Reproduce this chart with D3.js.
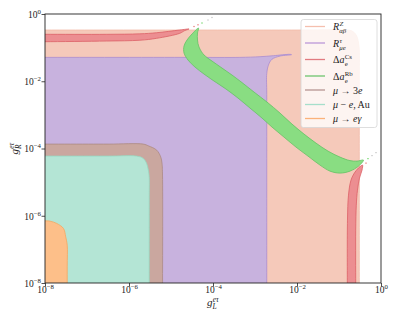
<!DOCTYPE html>
<html>
<head>
<meta charset="utf-8">
<script src="https://cdn.jsdelivr.net/npm/d3@7"></script>
<style>
  body { margin: 0; background: #fff; }
  svg text { font-family: "Liberation Serif", "DejaVu Serif", serif; fill: #222; }
</style>
</head>
<body>
<script>
"use strict"

// Axis ticks (powers of ten)
const xTicks = [1e-8, 1e-6, 1e-4, 1e-2, 1]
const yTicks = [1e-8, 1e-6, 1e-4, 1e-2, 1]

// Region outlines, as [log10 gL, log10 gR]
// (points outside -8..0 are only there so the shapes run off the frame)
const rzEdge = [[-9, -9], [-9, -0.476], [-8.5, -0.476], [-2, -0.476], [-0.81, -0.476], [-0.69, -0.506],
  [-0.607, -0.595], [-0.56, -0.714], [-0.531, -0.893], [-0.517, -1.071], [-0.517, -2], [-0.517, -8.5], [-0.517, -9]]
const rmueEdge = [[-9, -9], [-9, -1.29], [-8.5, -1.29], [-4.5, -1.29], [-3.36, -1.29], [-2.88, -1.27], [-2.56, -1.24],
  [-2.17, -1.2], [-2.13, -1.21], [-2.4, -1.25], [-2.6, -1.35], [-2.68, -1.52], [-2.72, -1.77], [-2.72, -2.4],
  [-2.72, -8.5], [-2.72, -9]]
const mu3eEdge = [[-9, -9], [-9, -3.869], [-8.5, -3.869], [-6.5, -3.869], [-5.66, -3.869], [-5.54, -3.92],
  [-5.34, -4.05], [-5.245, -4.25], [-5.214, -4.44], [-5.202, -4.79], [-5.202, -8.5], [-5.202, -9]]
const muAuEdge = [[-9, -9], [-9, -4.226], [-8.5, -4.226], [-6.5, -4.226], [-5.82, -4.226], [-5.66, -4.295],
  [-5.58, -4.443], [-5.54, -4.643], [-5.52, -4.84], [-5.519, -5.5], [-5.519, -8.5], [-5.519, -9]]
const muegEdge = [[-9, -9], [-9, -6.152], [-8.5, -6.152], [-8, -6.152], [-7.88, -6.161], [-7.72, -6.229],
  [-7.56, -6.378], [-7.507, -6.628], [-7.471, -6.875], [-7.471, -7.5], [-7.471, -8.5], [-7.471, -9]]
const csUpperEdge = [[-8.6, -0.604], [-8.3, -0.604], [-8, -0.604], [-6.53, -0.604], [-5.74, -0.59], [-5.34, -0.557],
  [-4.79, -0.476], [-4.57, -0.446], [-4.67, -0.491], [-4.79, -0.574], [-5.34, -0.723], [-5.74, -0.78],
  [-6.53, -0.804], [-8, -0.824], [-8.3, -0.824], [-8.6, -0.824]]
const csRightEdge = [[-0.802, -8.6], [-0.802, -8.3], [-0.802, -8], [-0.798, -6.131], [-0.774, -5.387], [-0.714, -4.94],
  [-0.619, -4.702], [-0.5, -4.539], [-0.44, -4.494], [-0.452, -4.643], [-0.512, -4.881], [-0.56, -5.238],
  [-0.588, -5.685], [-0.602, -6.429], [-0.602, -8], [-0.602, -8.3], [-0.602, -8.6]]
const rbEdge = [[-4.345, -0.417], [-4.369, -0.565], [-4.369, -0.774], [-4.333, -0.982], [-4.214, -1.22],
  [-4.024, -1.399], [-3.786, -1.607], [-3.548, -1.815], [-3.31, -2.039], [-3.024, -2.321], [-2.714, -2.619],
  [-2.405, -2.946], [-2.119, -3.274], [-1.833, -3.571], [-1.548, -3.839], [-1.262, -4.077], [-0.976, -4.256],
  [-0.738, -4.36], [-0.571, -4.375], [-0.417, -4.345],
  [-0.548, -4.539], [-0.738, -4.673], [-0.976, -4.732], [-1.214, -4.673], [-1.452, -4.494], [-1.738, -4.226],
  [-2.024, -3.958], [-2.31, -3.661], [-2.595, -3.363], [-2.833, -3.095], [-3.119, -2.798], [-3.405, -2.5],
  [-3.69, -2.232], [-3.976, -1.994], [-4.214, -1.786], [-4.429, -1.577], [-4.595, -1.369], [-4.69, -1.161],
  [-4.69, -0.952], [-4.619, -0.774], [-4.5, -0.595]]
// stray contour specks beyond the band tips
const specks = [[-4.452, -0.372, 'cs'], [-4.357, -0.321, 'cs'], [-4.262, -0.268, 'rb'], [-4.119, -0.179, 'grey'],
  [-4.024, -0.104, 'grey'], [-0.31, -4.301, 'rb'], [-0.357, -4.435, 'cs'], [-0.214, -4.211, 'grey'], [-0.119, -4.122, 'grey']]

// Legend entries, top to bottom
const legendKeys = ['rz', 'rmue', 'cs', 'rb', 'mu3e', 'muAu', 'mueg']

const fillColor = { rz: '#f5c9ba', rmue: '#c8b2de', cs: '#ec8e91', rb: '#89dd82', mu3e: '#caa79f',
  muAu: '#b4e5d5', mueg: '#fdbf89', grey: '#cfcfcf' }
const edgeColor = { rz: '#f2bba8', rmue: '#a98bd0', cs: '#dc5f66', rb: '#64c164', mu3e: '#ac8a84',
  muAu: '#97d9c2', mueg: '#f6a65e' }
const keyColor = { rz: '#f5bfae', rmue: '#bb98d9', cs: '#e17b80', rb: '#6fc56f', mu3e: '#b69591',
  muAu: '#a6dfcb', mueg: '#fbb27a' }

const W = 399, H = 319
const margin = { left: 45, right: 18, top: 14, bottom: 36 }

const svg = d3.select('body').append('svg')
  .attr('width', W).attr('height', H)

const x = d3.scaleLog().domain([1e-8, 1]).range([margin.left, W - margin.right])
const y = d3.scaleLog().domain([1e-8, 1]).range([H - margin.bottom, margin.top])

svg.append('clipPath').attr('id', 'plot-clip')
  .append('rect')
    .attr('x', x(1e-8)).attr('y', y(1))
    .attr('width', x(1) - x(1e-8)).attr('height', y(1e-8) - y(1))

const outline = d3.line()
  .x(d => x(Math.pow(10, d[0])))
  .y(d => y(Math.pow(10, d[1])))
  .curve(d3.curveCatmullRomClosed.alpha(0.5))

const plot = svg.append('g').attr('clip-path', 'url(#plot-clip)')

// drawn back to front
const regions = [
  ['rz', rzEdge], ['rmue', rmueEdge], ['mu3e', mu3eEdge], ['muAu', muAuEdge], ['mueg', muegEdge],
  ['cs', csUpperEdge], ['cs', csRightEdge], ['rb', rbEdge]
]
plot.selectAll('path.region')
  .data(regions)
  .enter()
  .append('path')
    .attr('class', 'region')
    .attr('d', d => outline(d[1]))
    .attr('fill', d => fillColor[d[0]])
    .attr('stroke', d => edgeColor[d[0]])
    .attr('stroke-width', 0.8)

plot.selectAll('rect.speck')
  .data(specks)
  .enter()
  .append('rect')
    .attr('class', 'speck')
    .attr('x', d => x(Math.pow(10, d[0])) - 0.8)
    .attr('y', d => y(Math.pow(10, d[1])) - 0.6)
    .attr('width', 1.6).attr('height', 1.2)
    .attr('fill', d => fillColor[d[2]])

/****** AXES ******/
function supLabel(sel, v) {
  const e = Math.round(Math.log10(v))
  sel.append('tspan').text('10')
  sel.append('tspan').attr('font-size', 6.8).attr('dy', -4).text(e === 0 ? '0' : '\u2212' + (-e))
}

const xAxis = svg.append('g')
  .attr('transform', `translate(0,${y(1e-8)})`)
  .call(d3.axisBottom(x).tickValues(xTicks).tickSize(3.5).tickFormat(''))
const yAxis = svg.append('g')
  .attr('transform', `translate(${x(1e-8)},0)`)
  .call(d3.axisLeft(y).tickValues(yTicks).tickSize(3.5).tickFormat(''))
svg.selectAll('.domain').remove()
svg.selectAll('.tick line').attr('stroke', '#222').attr('stroke-width', 0.8)

xAxis.selectAll('.tick').append('text')
  .attr('y', 10).attr('text-anchor', 'middle').attr('font-size', 9.5)
  .attr('fill', '#222')
  .each(function (v) { supLabel(d3.select(this), v) })
yAxis.selectAll('.tick').append('text')
  .attr('x', -4).attr('y', 3.3).attr('text-anchor', 'end').attr('font-size', 9.5)
  .attr('fill', '#222')
  .each(function (v) { supLabel(d3.select(this), v) })

// frame
svg.append('rect')
  .attr('x', x(1e-8)).attr('y', y(1))
  .attr('width', x(1) - x(1e-8)).attr('height', y(1e-8) - y(1))
  .attr('fill', 'none').attr('stroke', '#222').attr('stroke-width', 0.9)

// base with stacked super-/subscript; base = [[text, italic], ...]
function mathLabel(parent, base, sup, sub, size) {
  const g = parent.append('g')
  const t = g.append('text').attr('font-size', size)
  base.forEach(([s, it]) => t.append('tspan').attr('font-style', it ? 'italic' : 'normal').text(s))
  const w = t.node().getComputedTextLength()
  if (sup) g.append('text').attr('x', w + 0.4).attr('y', -size * 0.4).attr('font-size', size * 0.68)
    .attr('font-style', sup[1] ? 'italic' : 'normal').text(sup[0])
  if (sub) g.append('text').attr('x', w + 0.2).attr('y', size * 0.3).attr('font-size', size * 0.68)
    .attr('font-style', sub[1] ? 'italic' : 'normal').text(sub[0])
  return g
}

const xLab = mathLabel(svg, [['g', true]], ['e\u03c4', true], ['L', true], 11)
const xb = xLab.node().getBBox()
xLab.attr('transform', `translate(${(x(1e-8) + x(1)) / 2 - xb.width / 2},306)`)

const yHolder = svg.append('g')
const yLab = mathLabel(yHolder, [['g', true]], ['e\u03c4', true], ['R', true], 11)
const yb = yLab.node().getBBox()
yLab.attr('transform', `translate(${-yb.width / 2},0)`)
yHolder.attr('transform', `translate(18,${(y(1e-8) + y(1)) / 2}) rotate(-90)`)

/****** LEGEND ******/
const legendText = {
  rz: [[['R', true]], ['Z', true], ['\u03b1\u03b2', true]],
  rmue: [[['R', true]], ['\u03c4', true], ['\u03bce', true]],
  cs: [[['\u0394', false], ['a', true]], ['Cs', false], ['e', false]],
  rb: [[['\u0394', false], ['a', true]], ['Rb', false], ['e', false]],
  mu3e: [[['\u03bc', true], [' \u2192 3', false], ['e', true]], null, null],
  muAu: [[['\u03bc', true], [' \u2212 ', false], ['e', true], [', Au', false]], null, null],
  mueg: [[['\u03bc', true], [' \u2192 ', false], ['e\u03b3', true]], null, null]
}
const rowY = [29, 45.5, 62, 78.5, 92.5, 107, 121]

const legend = svg.append('g')
legend.append('rect')
  .attr('x', 301).attr('y', 19.5).attr('width', 76).attr('height', 108).attr('rx', 2.5)
  .attr('fill', '#fff').attr('fill-opacity', 0.8)
  .attr('stroke', '#d6d6d6').attr('stroke-width', 0.8)

legendKeys.forEach((k, i) => {
  legend.append('line')
    .attr('x1', 305).attr('x2', 325).attr('y1', rowY[i] - 2.5).attr('y2', rowY[i] - 2.5)
    .attr('stroke', keyColor[k]).attr('stroke-width', 1.3)
  const [base, sup, sub] = legendText[k]
  mathLabel(legend, base, sup, sub, 10)
    .attr('transform', `translate(333,${rowY[i] + 1})`)
})
</script>
</body>
</html>
